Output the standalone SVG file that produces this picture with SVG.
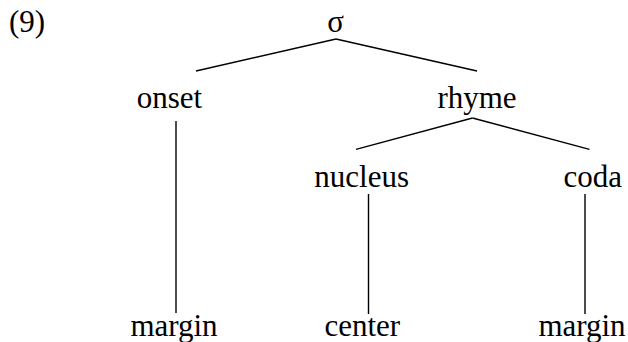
<svg xmlns="http://www.w3.org/2000/svg" width="628" height="342" viewBox="0 0 628 342">
<style>
line{stroke:#000;stroke-width:1.4}
</style>
<rect width="628" height="342" fill="#fff"/>
<text x="9" y="32" font-family="Liberation Serif" font-size="31">(9)</text>
<g id="sigma"><text x="335.5" y="32" font-family="Liberation Serif" font-size="31" text-anchor="middle">σ</text></g>
<g id="onset"><text x="169.5" y="108" font-family="Liberation Serif" font-size="31" text-anchor="middle">onset</text></g>
<g id="rhyme"><text x="477" y="108" font-family="Liberation Serif" font-size="31" text-anchor="middle">rhyme</text></g>
<g id="nucleus"><text x="361.7" y="187" font-family="Liberation Serif" font-size="31" text-anchor="middle">nucleus</text></g>
<g id="coda"><text x="592.8" y="187" font-family="Liberation Serif" font-size="31" text-anchor="middle">coda</text></g>
<g id="margin1"><text x="174" y="336" font-family="Liberation Serif" font-size="31" text-anchor="middle">margin</text></g>
<g id="center"><text x="362.3" y="336" font-family="Liberation Serif" font-size="31" text-anchor="middle">center</text></g>
<g id="margin2"><text x="582" y="336" font-family="Liberation Serif" font-size="31" text-anchor="middle">margin</text></g>
<g id="connectors">
<line x1="336" y1="39" x2="196" y2="71"/>
<line x1="336" y1="39" x2="477" y2="71"/>
<line x1="472.5" y1="118" x2="356" y2="149.4"/>
<line x1="472.5" y1="118" x2="589.5" y2="149.4"/>
<line x1="176" y1="121" x2="176" y2="313"/>
<line x1="368.5" y1="194" x2="368.5" y2="314"/>
<line x1="585" y1="194" x2="585" y2="314"/>
</g>
</svg>
